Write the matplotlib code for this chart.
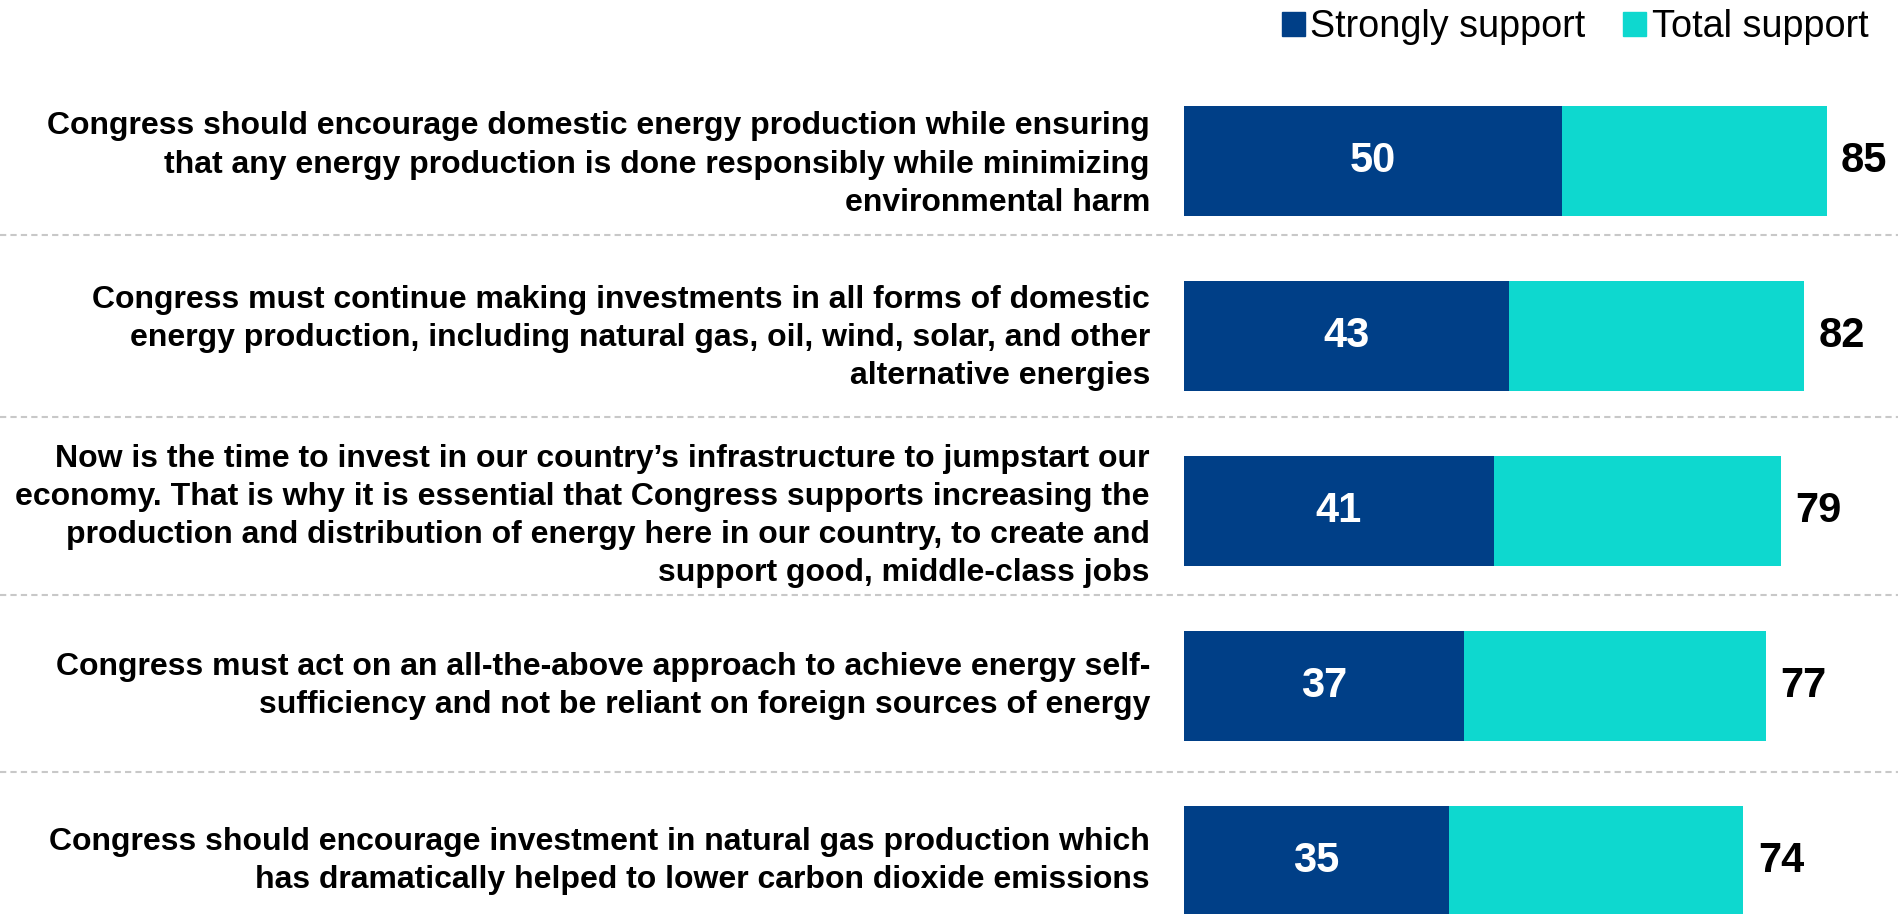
import matplotlib.pyplot as plt
from matplotlib.patches import Patch

# --- dados ---
rotulos = [
    "Congress should encourage domestic energy production while ensuring\n"
    "that any energy production is done responsibly while minimizing\n"
    "environmental harm",
    "Congress must continue making investments in all forms of domestic\n"
    "energy production, including natural gas, oil, wind, solar, and other\n"
    "alternative energies",
    "Now is the time to invest in our country\u2019s infrastructure to jumpstart our\n"
    "economy. That is why it is essential that Congress supports increasing the\n"
    "production and distribution of energy here in our country, to create and\n"
    "support good, middle-class jobs",
    "Congress must act on an all-the-above approach to achieve energy self-\n"
    "sufficiency and not be reliant on foreign sources of energy",
    "Congress should encourage investment in natural gas production which\n"
    "has dramatically helped to lower carbon dioxide emissions",
]
strongly = [50, 43, 41, 37, 35]
total = [85, 82, 79, 77, 74]

COR_ESCURA = "#003F87"
COR_TEAL = "#0ED8CF"

plt.rcParams['font.family'] = ['Liberation Sans', 'DejaVu Sans']

fig = plt.figure(figsize=(18.99, 9.14), dpi=100)
ax = fig.add_axes([0, 0, 1, 1])

# escala: x=0 em 1184 px, 7.56 px por unidade
ax.set_xlim(-1184 / 7.56, (1899 - 1184) / 7.56)
ax.set_ylim((914 - 161) / 175.0, -161 / 175.0)
ax.axis('off')

ys = list(range(len(rotulos)))
ax.barh(ys, total, height=0.634, color=COR_TEAL, zorder=2)
ax.barh(ys, strongly, height=0.634, color=COR_ESCURA, zorder=3)

# linhas tracejadas entre as categorias
pos_linhas = [0.42, 0.46, 0.48, 0.49]
for i, p in enumerate(pos_linhas):
    ax.axhline(i + p, color='#c8c8c8', lw=1.5, ls=(0, (3, 2)), zorder=1)

desloc = [0.02, 0.01, 0.03, 0, 0]
for i, txt in enumerate(rotulos):
    ax.text(-4.5, i + desloc[i], txt, ha='right', va='center', fontsize=23,
            fontweight='bold', linespacing=1.35, color='black')
    ax.text(strongly[i] / 2, i, str(strongly[i]), ha='center', va='center',
            fontsize=30, fontweight='bold', color='white', zorder=4)
    ax.text(total[i] + 1.9, i, str(total[i]), ha='left', va='center',
            fontsize=30, fontweight='bold', color='black')

handles = [Patch(color=COR_ESCURA, label='Strongly support'),
           Patch(color=COR_TEAL, label='Total support')]
fig.legend(handles=handles, loc='upper right', bbox_to_anchor=(1872 / 1899, 0.994),
           ncol=2, frameon=False, fontsize=27.2, handlelength=0.6, handleheight=0.6,
           handletextpad=0.15, columnspacing=1.0, borderaxespad=0.0, borderpad=0.1)

fig.savefig('out.png', dpi=100)
